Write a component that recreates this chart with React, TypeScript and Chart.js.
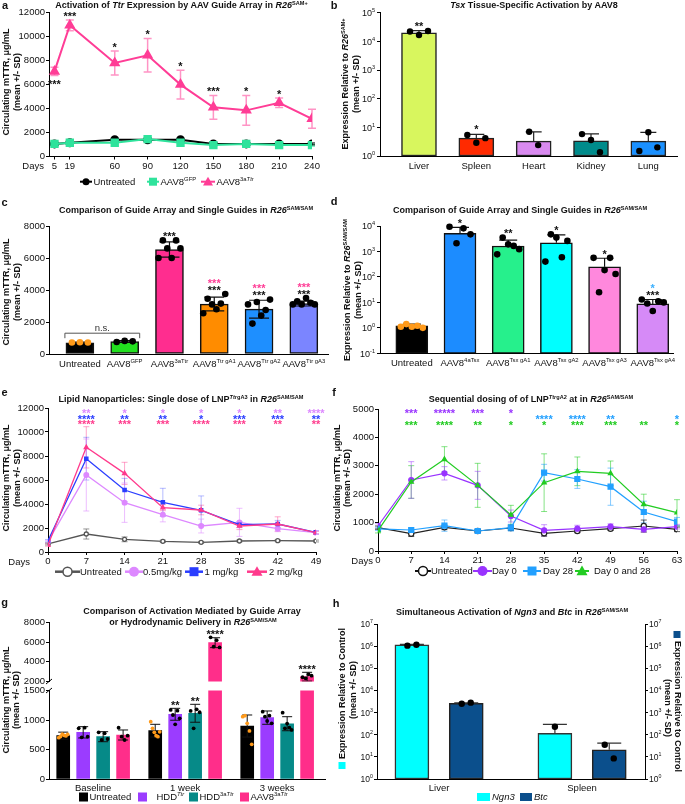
import React, { useEffect, useRef } from 'react';
import { Chart, registerables } from 'chart.js';

Chart.register(...registerables);

const FAM = '"Liberation Sans", Arial, Helvetica, sans-serif';
Chart.defaults.font.family = FAM;
Chart.defaults.color = '#111';

/* ================= DATA ================= */
// a
const daysA = [5, 19, 60, 90, 120, 150, 180, 210, 240];
const untreatedA = [1050, 1150, 1400, 1400, 1400, 1050, 1050, 1050, 1050];
const untreatedSdA = [80, 80, 100, 100, 100, 80, 80, 80, 80];
const gfpA = [1050, 1150, 1150, 1450, 1150, 950, 1050, 950, 950];
const gfpSdA = [100, 80, 120, 150, 100, 80, 80, 80, 80];
const ttrA = [7100, 10950, 7800, 8450, 6000, 4100, 3850, 4480, 3150];
const ttrSdA = [350, 450, 1000, 1400, 1200, 1000, 1250, 400, 800];
const starsA = ['***', '***', '*', '*', '*', '***', '*', '*', ''];
const starSideA = ['below', 'above', 'above', 'above', 'above', 'above', 'above', 'above', 'above'];
const yTicksA = [0, 2000, 4000, 6000, 8000, 10000, 12000];

// b
const tissuesB = ['Liver', 'Spleen', 'Heart', 'Kidney', 'Lung'];
const meanB = [20000, 4.2, 3.3, 3.4, 3.3];
const sdB = [3700, 1.5, 3.7, 2.5, 3.4];
const dotsB = [[22000, 16600, 23000], [5.4, 2.9, 4.2], [7.0, 2.4], [5.8, 3.6, 1.35], [1.5, 6.7, 2.0]];
const colorsB = ['#d8f65e', '#ff2a00', '#d98af0', '#008b8b', '#1a90ff'];
const starsB = ['**', '*', '', '', ''];

// c
const groupsC = ['Untreated', 'AAV8^{GFP}', 'AAV8^{3aTtr}', 'AAV8^{Ttr gA1}', 'AAV8^{Ttr gA2}', 'AAV8^{Ttr gA3}'];
const meanC = [700, 780, 6530, 3120, 2800, 3150];
const sdC = [40, 50, 480, 430, 560, 150];
const dotsC = [[720, 730, 720], [750, 820, 790], [6000, 7100, 6600, 6000, 7100, 6600], [2550, 3450, 3100, 2800, 3150, 3750], [3100, 1900, 3250, 2400, 2750, 3400], [3100, 3300, 3100, 3500, 3200, 3100]];
const colorsC = ['#000000', '#22e01f', '#ff2d8f', '#ff8c00', '#1e8fff', '#7b85ff'];
const starsC = ['', '', '***', '***', '***', '***'];
const starsPinkC = ['', '', '', '***', '***', '***'];
const yTicksC = [0, 2000, 4000, 6000, 8000];

// d
const groupsD = ['Untreated', 'AAV8^{4aTsx}', 'AAV8^{Tsx gA1}', 'AAV8^{Tsx gA2}', 'AAV8^{Tsx gA3}', 'AAV8^{Tsx gA4}'];
const meanD = [1.2, 5150, 1640, 2200, 250, 8.7];
const sdD = [0.2, 3750, 1160, 2300, 290, 4.3];
const dotsD = [[1.1, 1.4, 1.1, 1.2, 1.0], [9300, 2100, 8100, 4700], [770, 3500, 1900, 1650, 1230], [400, 4700, 3500, 590, 2600], [560, 25, 185, 560, 130], [13, 9, 4.6, 11, 10]];
const colorsD = ['#000000', '#1c8cff', '#26f08c', '#00ffff', '#ff88dd', '#d68af7'];
const starsD = ['', '*', '**', '*', '*', '***'];
const starsBlueD = ['', '', '', '', '', '*'];

// e
const daysE = [0, 7, 14, 21, 28, 35, 42, 49];
const untreatedE = [667, 1500, 1055, 888, 805, 916, 944, 916];
const untreatedSdE = [80, 420, 200, 100, 80, 80, 80, 80];
const lowE = [861, 6416, 4111, 3111, 2166, 2472, 1944, 1611];
const lowSdE = [100, 3000, 1640, 600, 580, 1170, 250, 150];
const midE = [944, 7778, 5166, 4138, 3472, 2277, 2333, 1640];
const midSdE = [100, 1780, 970, 1170, 1200, 250, 300, 150];
const highE = [583, 8722, 6555, 3694, 3500, 2166, 2333, 1611];
const highSdE = [100, 1720, 920, 250, 400, 300, 600, 100];
const starsLowE = ['', '**', '*', '*', '*', '*', '**', '****'];
const starsMidE = ['', '****', '**', '**', '*', '***', '***', '**'];
const starsHighE = ['', '****', '***', '***', '****', '***', '**', '**'];

// f
const daysF = [0, 7, 14, 21, 28, 35, 42, 49, 56, 63];
const untreatedF = [821, 610, 833, 704, 810, 622, 704, 786, 880, 763];
const untreatedSdF = [60, 100, 80, 60, 90, 100, 60, 60, 210, 80];
const day0F = [880, 2500, 2735, 2312, 1232, 728, 786, 857, 763, 857];
const day0SdF = [80, 645, 235, 493, 211, 198, 120, 100, 100, 80];
const day28F = [780, 740, 892, 704, 821, 2758, 2535, 2265, 1373, 1032];
const day28SdF = [60, 60, 200, 60, 120, 294, 330, 655, 380, 150];
const bothF = [716, 2430, 3228, 2312, 1268, 2406, 2805, 2735, 1643, 1350];
const bothSdF = [80, 575, 445, 775, 340, 1016, 505, 434, 357, 457];
const starsDay0F = ['', '***', '*****', '***', '*', '', '', '', '', ''];
const starsDay28F = ['', '', '', '', '', '****', '****', '**', '', '*'];
const starsBothF = ['', '***', '****', '**', '*', '*', '***', '***', '**', '*'];

// g
const timesG = ['Baseline', '1 week', '3 weeks'];
const untreatedG = [734, 819, 898];
const untreatedSdG = [60, 108, 187];
const untreatedDotsG = [[700, 720, 760, 740, 730, 755], [971, 859, 791, 734, 717, 800], [1056, 1073, 944, 814, 588]];
const hddTtrG = [791, 1097, 1040];
const hddTtrSdG = [96, 101, 113];
const hddTtrDotsG = [[859, 707, 870, 717], [1170, 1085, 927, 1158, 1029], [1141, 1056, 983, 1073, 944]];
const hdd3aG = [717, 1114, 937];
const hdd3aSdG = [85, 152, 119];
const hdd3aDotsG = [[791, 661, 775, 678], [1153, 859, 1181, 1131], [1124, 859, 940, 870, 831]];
const aav8G = [746, 5946, 2488];
const aav8SdG = [85, 504, 447];
const aav8DotsG = [[870, 717, 661, 734], [6495, 5540, 6200, 5470], [2430, 2325, 2732, 2590]];
const starsHddTtrG = ['', '**', ''];
const starsHdd3aG = ['', '**', ''];
const starsAav8G = ['', '****', '****'];
const yTicksGUp = [2000, 4000, 6000, 8000];
const yTicksGLow = [0, 500, 1000, 1500];

// h
const organsH = ['Liver', 'Spleen'];
const ngn3H = [1.15e6, 115];
const ngn3SdH = [0.05e6, 180];
const ngn3DotsH = [[1.05e6, 1.15e6], [230]];
const btcH = [2600, 21];
const btcSdH = [150, 21];
const btcDotsH = [[2500, 2800], [35, 8.5]];

/* ================= HELPERS ================= */
function parseRich(s: string) {
  const segs: any[] = [];
  const stack: string[] = [];
  let cur = '';
  const push = () => {
    if (cur) segs.push({ t: cur, sup: stack.includes('^'), it: stack.includes('~') });
    cur = '';
  };
  for (let i = 0; i < s.length; i++) {
    const c = s[i];
    if ((c === '^' || c === '~') && s[i + 1] === '{') { push(); stack.push(c); i++; continue; }
    if (c === '}' && stack.length) { push(); stack.pop(); continue; }
    cur += c;
  }
  push();
  return segs;
}

function drawRich(ctx: any, s: string, x: number, y: number, o: any = {}) {
  const size = o.size ?? 9.5;
  const segs = parseRich(s);
  const font = (g: any) => `${g.it ? 'italic ' : ''}${o.bold ? 'bold ' : ''}${g.sup ? size * 0.62 : size}px ${FAM}`;
  let w = 0;
  const ws = segs.map((g: any) => { ctx.font = font(g); const m = ctx.measureText(g.t).width; w += m; return m; });
  let cx = o.align === 'right' ? x - w : o.align === 'left' ? x : x - w / 2;
  const base = y + size * 0.36;
  ctx.fillStyle = o.color ?? '#111';
  ctx.textAlign = 'left';
  ctx.textBaseline = 'alphabetic';
  segs.forEach((g: any, i: number) => {
    ctx.font = font(g);
    ctx.fillText(g.t, cx, g.sup ? base - size * 0.42 : base);
    cx += ws[i];
  });
  return w;
}

function marker(ctx: any, kind: string, x: number, y: number, r: number, color: string) {
  ctx.save();
  ctx.fillStyle = color;
  ctx.strokeStyle = color;
  ctx.lineWidth = 1.5;
  ctx.beginPath();
  if (kind === 'circle') { ctx.arc(x, y, r, 0, Math.PI * 2); ctx.fill(); }
  else if (kind === 'circleOpen') { ctx.arc(x, y, r, 0, Math.PI * 2); ctx.fillStyle = '#fff'; ctx.fill(); ctx.stroke(); }
  else if (kind === 'rect') { ctx.rect(x - r, y - r, 2 * r, 2 * r); ctx.fill(); }
  else if (kind === 'triangle') { ctx.moveTo(x, y - r); ctx.lineTo(x + r, y + r * 0.75); ctx.lineTo(x - r, y + r * 0.75); ctx.closePath(); ctx.fill(); }
  ctx.restore();
}

function clipArea(chart: any, cfg: any) {
  const { ctx, chartArea: ca } = chart;
  const cp = cfg.clipPad ?? 14;
  ctx.beginPath();
  ctx.rect(ca.left - cp, ca.top - cp, ca.right - ca.left + 2 * cp, ca.bottom - ca.top + 2 * cp);
  ctx.clip();
}

function drawErr(chart: any, cfg: any) {
  const { ctx } = chart;
  ctx.save();
  clipArea(chart, cfg);
  chart.data.datasets.forEach((ds: any, di: number) => {
    if (!ds.errs) return;
    const meta = chart.getDatasetMeta(di);
    const ys = chart.scales[meta.yAxisID];
    meta.data.forEach((el: any, j: number) => {
      const sd = ds.errs[j];
      if (!sd) return;
      const m = ds.data[j].y;
      const x = el.x;
      const up = ds.errMode === 'up';
      const top = ys.getPixelForValue(m + sd);
      const bot = up ? ys.getPixelForValue(m) : ys.getPixelForValue(m - sd);
      const cw = ds.capW ?? 4;
      ctx.strokeStyle = ds.errColor ?? '#000';
      ctx.lineWidth = ds.errWidth ?? 1;
      ctx.beginPath();
      ctx.moveTo(x, top); ctx.lineTo(x, bot);
      ctx.moveTo(x - cw, top); ctx.lineTo(x + cw, top);
      if (!up) { ctx.moveTo(x - cw, bot); ctx.lineTo(x + cw, bot); }
      ctx.stroke();
    });
  });
  ctx.restore();
}

function drawDots(chart: any, cfg: any) {
  const { ctx } = chart;
  ctx.save();
  clipArea(chart, cfg);
  chart.data.datasets.forEach((ds: any, di: number) => {
    if (!ds.dots) return;
    const meta = chart.getDatasetMeta(di);
    const ys = chart.scales[meta.yAxisID];
    meta.data.forEach((el: any, j: number) => {
      const vals = ds.dots[j] || [];
      const n = vals.length;
      const spread = n > 1 ? Math.min((ds.dotSpacing ?? 6) * (n - 1), ds.dotSpread ?? 999) : 0;
      const col = Array.isArray(ds.dotColor) ? ds.dotColor[j] : (ds.dotColor ?? '#000');
      vals.forEach((v: number, k: number) => {
        const x = el.x + (n > 1 ? -spread / 2 + (k * spread) / (n - 1) : 0);
        const y = ys.getPixelForValue(v);
        ctx.fillStyle = col;
        ctx.beginPath();
        ctx.arc(x, y, ds.dotR ?? 3, 0, Math.PI * 2);
        ctx.fill();
      });
    });
  });
  ctx.restore();
}

function drawNotes(chart: any, cfg: any) {
  const { ctx, chartArea: ca } = chart;
  const xs = chart.scales.x;
  ctx.save();
  if (cfg.logLabels) {
    cfg.logLabels.forEach((L: any) => {
      const sc = chart.scales[L.axis];
      const gapL = L.gap ?? 5;
      sc.ticks.forEach((t: any) => {
        const e = Math.round(Math.log10(t.value));
        const y = sc.getPixelForValue(t.value);
        drawRich(ctx, '10^{' + e + '}', L.side === 'left' ? sc.right - gapL : sc.left + gapL, y, { size: L.size ?? 9, align: L.side === 'left' ? 'right' : 'left' });
      });
    });
  }
  if (cfg.xLabels) {
    cfg.xLabels.items.forEach((it: any) => {
      drawRich(ctx, it.text, xs.getPixelForValue(it.x), ca.bottom + cfg.xLabels.dy, { size: cfg.xLabels.size ?? 9.5, align: 'center' });
    });
  }
  if (cfg.days !== undefined) {
    drawRich(ctx, 'Days', ca.left + cfg.days, ca.bottom + (cfg.daysDy ?? 9.5), { size: 9.5, align: 'right' });
  }
  if (cfg.bracket) {
    const b = cfg.bracket;
    const ys = chart.scales.y;
    const x0 = xs.getPixelForValue(b.x0) - b.pad;
    const x1 = xs.getPixelForValue(b.x1) + b.pad;
    const y = ys.getPixelForValue(b.y);
    ctx.strokeStyle = '#555';
    ctx.lineWidth = 1;
    ctx.beginPath();
    ctx.moveTo(x0, y + b.leg); ctx.lineTo(x0, y); ctx.lineTo(x1, y); ctx.lineTo(x1, y + b.leg);
    ctx.stroke();
    drawRich(ctx, b.text, (x0 + x1) / 2, y - 6, { size: 9.5, color: '#333' });
  }
  if (cfg.breakMark) {
    const y = cfg.breakMark === 'bottom' ? ca.bottom : ca.top;
    ctx.strokeStyle = '#000';
    ctx.lineWidth = 1;
    ctx.beginPath();
    ctx.moveTo(ca.left - 3, y + 2.5); ctx.lineTo(ca.left + 3, y - 2.5);
    ctx.stroke();
  }
  if (cfg.stars) {
    const size = cfg.starSize ?? 11;
    ctx.font = `bold ${size}px ${FAM}`;
    ctx.textAlign = 'center';
    ctx.textBaseline = 'middle';
    cfg.stars.forEach((s: any) => {
      const ys = chart.scales[s.axis ?? 'y'];
      const x = xs.getPixelForValue(s.x);
      const y = ys.getPixelForValue(s.y) + s.dy;
      ctx.fillStyle = s.color;
      ctx.fillText(s.text, x, y + 0.26 * size);
    });
  }
  if (cfg.legend) {
    const L = cfg.legend;
    let x = L.x;
    const size = L.size ?? 9.5;
    L.items.forEach((it: any) => {
      if (it.x !== undefined) x = it.x;
      if (it.marker === 'box') {
        const bw = it.boxW ?? 9;
        const bh = it.boxH ?? 9;
        ctx.fillStyle = it.color;
        ctx.fillRect(x, L.y - bh / 2, bw, bh);
        x += bw + (it.gapT ?? 1.5);
      } else {
        const len = it.len ?? 14;
        ctx.strokeStyle = it.color;
        ctx.lineWidth = it.lw ?? 2;
        ctx.beginPath();
        ctx.moveTo(x, L.y); ctx.lineTo(x + len, L.y);
        ctx.stroke();
        marker(ctx, it.marker, x + len / 2, L.y, it.r ?? 3.5, it.color);
        x += len + (it.gapT ?? 1.5);
      }
      const w = drawRich(ctx, it.text, x, L.y, { size, align: 'left' });
      x += w + (L.gap ?? 8);
    });
  }
  ctx.restore();
}

function makeDeco(cfg: any) {
  return {
    id: 'deco',
    beforeDatasetsDraw(chart: any) { if (cfg.errBehind) drawErr(chart, cfg); },
    afterDatasetsDraw(chart: any) { if (!cfg.errBehind) drawErr(chart, cfg); drawDots(chart, cfg); },
    afterDraw(chart: any) { drawNotes(chart, cfg); },
  };
}

const axisGrid = (ticks: boolean) => ({ drawOnChartArea: false, drawTicks: ticks, tickLength: 3, color: '#000', tickColor: '#000', offset: false });
const axisBorder = { color: '#000', width: 1 };

function yLinear(min: number, max: number, ticks: number[], w: number) {
  return {
    type: 'linear', min, max,
    afterBuildTicks: (s: any) => { s.ticks = ticks.map((v) => ({ value: v })); },
    afterFit: (s: any) => { s.width = w; },
    ticks: { font: { size: 9.5, family: FAM }, color: '#111', padding: 1, callback: (v: any) => String(v) },
    grid: axisGrid(true),
    border: axisBorder,
  };
}

function yLog(min: number, max: number, w: number, position = 'left') {
  const ticks: number[] = [];
  for (let e = Math.round(Math.log10(min)); e <= Math.round(Math.log10(max)); e++) ticks.push(Math.pow(10, e));
  return {
    type: 'logarithmic', position, min, max,
    afterBuildTicks: (s: any) => { s.ticks = ticks.map((v) => ({ value: v })); },
    afterFit: (s: any) => { s.width = w; },
    ticks: { callback: () => '' },
    grid: axisGrid(true),
    border: axisBorder,
  };
}

function xLinear(min: number, max: number, ticks: number[], h: number, labels: boolean, display = true) {
  return {
    type: 'linear', min, max, offset: false, display,
    afterBuildTicks: (s: any) => { s.ticks = ticks.map((v) => ({ value: v })); },
    afterFit: (s: any) => { s.height = h; },
    ticks: { display: labels, font: { size: 9.5, family: FAM }, color: '#111', padding: 1, maxRotation: 0, autoSkip: false, callback: (v: any) => String(v) },
    grid: axisGrid(labels),
    border: axisBorder,
  };
}

function baseOptions(padding: any, scales: any) {
  return {
    animation: false, responsive: false, maintainAspectRatio: false, events: [],
    layout: { padding },
    plugins: { legend: { display: false }, tooltip: { enabled: false } },
    scales,
  };
}

function barStars(labels: string[], means: number[], sds: number[], dots: number[][], color: string, dy: number, xOf = (i: number) => i, axis = 'y') {
  const out: any[] = [];
  labels.forEach((t, i) => {
    if (!t) return;
    const top = Math.max(means[i] + sds[i], ...(dots[i] || []));
    out.push({ x: xOf(i), y: top, dy, text: t, color, axis });
  });
  return out;
}

function rowStars(labels: string[], xsv: number[], level: number, color: string) {
  const out: any[] = [];
  labels.forEach((t, i) => { if (t) out.push({ x: xsv[i], y: level, dy: 0, text: t, color }); });
  return out;
}

const pts = (xsv: number[], ysv: number[]) => xsv.map((x, i) => ({ x, y: ysv[i] }));

/* ================= CONFIGS ================= */
const PINK = '#ff3d96';
const MINT = '#2fe39c';

function cfgA() {
  const starList: any[] = [];
  starsA.forEach((t, i) => {
    if (!t) return;
    if (starSideA[i] === 'below') starList.push({ x: daysA[i], y: ttrA[i] - ttrSdA[i], dy: 6, text: t, color: '#111' });
    else starList.push({ x: daysA[i], y: ttrA[i] + ttrSdA[i], dy: -6, text: t, color: '#111' });
  });
  return {
    type: 'line',
    data: {
      datasets: [
        { data: pts(daysA, ttrA), order: 0, borderColor: PINK, borderWidth: 2, pointStyle: 'triangle', pointRadius: 4.5, pointBackgroundColor: PINK, pointBorderColor: PINK, tension: 0, errs: ttrSdA, errColor: 'rgba(255,61,150,0.55)', errWidth: 1.5, capW: 4 },
        { data: pts(daysA, gfpA), order: 1, borderColor: MINT, borderWidth: 2, pointStyle: 'rect', pointRadius: 4.5, pointBackgroundColor: MINT, pointBorderColor: MINT, tension: 0, errs: gfpSdA, errColor: MINT, capW: 3 },
        { data: pts(daysA, untreatedA), order: 2, borderColor: '#000', borderWidth: 2, pointStyle: 'circle', pointRadius: 3.5, pointBackgroundColor: '#000', pointBorderColor: '#000', tension: 0, errs: untreatedSdA, errColor: '#000', capW: 3 },
      ],
    },
    options: baseOptions({ top: 12.7, right: 30, left: 0, bottom: 0 }, {
      x: xLinear(0, 240, daysA, 38.5, true),
      y: yLinear(0, 12000, yTicksA, 49),
    }),
    plugins: [makeDeco({
      errBehind: true, days: -5, stars: starList,
      legend: {
        y: 181.7, x: 80, gap: 8, items: [
          { x: 80, text: 'Untreated', color: '#000', marker: 'circle', r: 3.5, len: 12 },
          { x: 147, text: 'AAV8^{GFP}', color: MINT, marker: 'rect', r: 4, len: 12 },
          { x: 201, text: 'AAV8^{3a~{Ttr}}', color: PINK, marker: 'triangle', r: 5, len: 14 },
        ],
      },
    })],
  };
}

function cfgB() {
  return {
    type: 'bar',
    data: {
      datasets: [{
        data: tissuesB.map((_, i) => ({ x: i, y: meanB[i] })),
        backgroundColor: colorsB, borderColor: '#222', borderWidth: 1.5, borderSkipped: false,
        barThickness: 35, grouped: false,
        errs: sdB, errMode: 'up', capW: 8, errWidth: 1.2, errColor: '#222',
        dots: dotsB, dotR: 3.2, dotSpacing: 9, dotSpread: 18,
      }],
    },
    options: baseOptions({ top: 12.7, right: 8, left: 0, bottom: 0 }, {
      x: xLinear(-0.68, 4.5, [], 39, false),
      y: yLog(1, 1e5, 38),
    }),
    plugins: [makeDeco({
      logLabels: [{ axis: 'y', side: 'left' }],
      xLabels: { items: tissuesB.map((t, i) => ({ x: i, text: t })), dy: 9.7 },
      stars: barStars(starsB, meanB, sdB, dotsB, '#111', -7),
    })],
  };
}

function cfgC() {
  return {
    type: 'bar',
    data: {
      datasets: [{
        data: groupsC.map((_, i) => ({ x: i, y: meanC[i] })),
        backgroundColor: colorsC, borderColor: '#111', borderWidth: 1.5, borderSkipped: false,
        barThickness: 28, grouped: false,
        errs: sdC, errMode: 'both', capW: 10, errWidth: 1.2, errColor: '#111',
        dots: dotsC, dotR: 3.3, dotSpacing: 8, dotSpread: 22,
        dotColor: ['#ff9a1a', '#000', '#000', '#000', '#000', '#000'],
      }],
    },
    options: baseOptions({ top: 31, right: 14, left: 0, bottom: 0 }, {
      x: xLinear(-0.69, 5.54, [], 41, false),
      y: yLinear(0, 8000, yTicksC, 49),
    }),
    plugins: [makeDeco({
      xLabels: { items: groupsC.map((t, i) => ({ x: i, text: t })), dy: 9.5 },
      bracket: { x0: 0, x1: 1, pad: 15, y: 1300, leg: 5, text: 'n.s.' },
      stars: [
        ...barStars(starsC, meanC, sdC, dotsC, '#111', -6),
        ...barStars(starsPinkC, meanC, sdC, dotsC, '#ff3d96', -13),
      ],
    })],
  };
}

function cfgD() {
  return {
    type: 'bar',
    data: {
      datasets: [{
        data: groupsD.map((_, i) => ({ x: i, y: meanD[i] })),
        backgroundColor: colorsD, borderColor: '#111', borderWidth: 1.5, borderSkipped: false,
        barThickness: 32, grouped: false,
        errs: sdD, errMode: 'up', capW: 9, errWidth: 1.2, errColor: '#111',
        dots: dotsD, dotR: 3.3, dotSpacing: 7, dotSpread: 22,
        dotColor: ['#ff9a1a', '#000', '#000', '#000', '#000', '#000'],
      }],
    },
    options: baseOptions({ top: 31, right: 12, left: 0, bottom: 0 }, {
      x: xLinear(-0.66, 5.42, [], 41.7, false),
      y: yLog(0.1, 1e4, 38),
    }),
    plugins: [makeDeco({
      logLabels: [{ axis: 'y', side: 'left' }],
      xLabels: { items: groupsD.map((t, i) => ({ x: i, text: t })), dy: 9.7 },
      stars: [
        ...barStars(starsD, meanD, sdD, dotsD, '#111', -6),
        ...barStars(starsBlueD, meanD, sdD, dotsD, '#3ab0ff', -13),
      ],
    })],
  };
}

const VIOLET_E = '#dd88ff';
const BLUE_E = '#2a3dff';
const PINK_E = '#ff3a8c';

function cfgE() {
  const line = (ys: number[], sd: number[], color: string, errColor: string, style: string, order: number, extra: any = {}) => ({
    data: pts(daysE, ys), order, borderColor: color, borderWidth: 1.3, pointStyle: style, pointRadius: 2.3,
    pointBackgroundColor: color, pointBorderColor: color, tension: 0, errs: sd, errColor, errWidth: 1, capW: 3, ...extra,
  });
  return {
    type: 'line',
    data: {
      datasets: [
        line(highE, highSdE, PINK_E, 'rgba(255,58,140,0.45)', 'triangle', 0),
        line(midE, midSdE, BLUE_E, 'rgba(42,61,255,0.35)', 'rect', 1),
        line(lowE, lowSdE, VIOLET_E, 'rgba(221,136,255,0.55)', 'circle', 2),
        line(untreatedE, untreatedSdE, '#555', 'rgba(80,80,80,0.6)', 'circle', 3, { pointBackgroundColor: '#fff', pointRadius: 2 }),
      ],
    },
    options: baseOptions({ top: 13, right: 26, left: 0, bottom: 0 }, {
      x: xLinear(0, 49, daysE, 43, true),
      y: yLinear(0, 12000, yTicksA, 48),
    }),
    plugins: [makeDeco({
      errBehind: true, days: -18,
      stars: [
        ...rowStars(starsLowE, daysE, 11750, VIOLET_E),
        ...rowStars(starsMidE, daysE, 11270, BLUE_E),
        ...rowStars(starsHighE, daysE, 10820, PINK_E),
      ],
      legend: {
        y: 176.7, x: 55, gap: 8, items: [
          { x: 55, text: 'Untreated', color: '#555', marker: 'circleOpen', r: 4.5, len: 25, lw: 2.5, gapT: 0 },
          { x: 125, text: '0.5mg/kg', color: VIOLET_E, marker: 'circle', r: 5, len: 18, lw: 2.5, gapT: 0 },
          { x: 185, text: '1 mg/kg', color: BLUE_E, marker: 'rect', r: 4.5, len: 18, lw: 2.5, gapT: 1.5 },
          { x: 247, text: '2 mg/kg', color: PINK_E, marker: 'triangle', r: 5.5, len: 20, lw: 2.5, gapT: 2 },
        ],
      },
    })],
  };
}

const PURPLE_F = '#9933ff';
const BLUE_F = '#22a0ff';
const GREEN_F = '#22cc22';

function cfgF() {
  const line = (ys: number[], sd: number[], color: string, errColor: string, style: string, r: number, order: number, extra: any = {}) => ({
    data: pts(daysF, ys), order, borderColor: color, borderWidth: 1.2, pointStyle: style, pointRadius: r,
    pointBackgroundColor: color, pointBorderColor: color, tension: 0, errs: sd, errColor, errWidth: 1, capW: 3, ...extra,
  });
  return {
    type: 'line',
    data: {
      datasets: [
        line(bothF, bothSdF, GREEN_F, 'rgba(34,204,34,0.55)', 'triangle', 2.5, 0),
        line(day28F, day28SdF, BLUE_F, 'rgba(34,160,255,0.55)', 'rect', 3.5, 1),
        line(day0F, day0SdF, PURPLE_F, 'rgba(153,51,255,0.5)', 'circle', 2.5, 2),
        line(untreatedF, untreatedSdF, '#222', 'rgba(30,30,30,0.7)', 'circle', 2.6, 3, { pointBackgroundColor: '#fff' }),
      ],
    },
    options: baseOptions({ top: 14, right: 8, left: 0, bottom: 0 }, {
      x: xLinear(0, 63, daysF, 44, true),
      y: yLinear(0, 5000, [0, 1000, 2000, 3000, 4000, 5000], 36),
    }),
    plugins: [makeDeco({
      errBehind: true, days: -5,
      stars: [
        ...rowStars(starsDay0F, daysF, 4930, PURPLE_F),
        ...rowStars(starsDay28F, daysF, 4730, BLUE_F),
        ...rowStars(starsBothF, daysF, 4520, GREEN_F),
      ],
      legend: {
        y: 176, x: 73, gap: 8, items: [
          { x: 73, text: 'Untreated', color: '#111', marker: 'circleOpen', r: 4.5, len: 16, lw: 2, gapT: 0 },
          { x: 131, text: 'Day 0', color: PURPLE_F, marker: 'circle', r: 5, len: 19, lw: 2, gapT: 0 },
          { x: 181, text: 'Day 28', color: BLUE_F, marker: 'rect', r: 4.5, len: 18, lw: 2, gapT: 2 },
          { x: 233, text: 'Day 0 and 28', color: GREEN_F, marker: 'triangle', r: 5.5, len: 14, lw: 2, gapT: 5 },
        ],
      },
    })],
  };
}

const G_STEP = 0.217;
const gx = (group: number, k: number) => group + (k - 1.5) * G_STEP;
const PURPLE_G = '#9b3cff';
const TEAL_G = '#068a88';
const PINK_G = '#ff2e8a';

function datasetsG() {
  const mk = (vals: number[], sd: number[], dots: number[][], k: number, color: string, dotColor: string) => ({
    data: vals.map((v, i) => ({ x: gx(i, k), y: v })),
    backgroundColor: color, borderColor: color, borderWidth: 0, borderSkipped: false,
    barThickness: 13, grouped: false,
    errs: sd, errMode: 'both', capW: 5, errWidth: 1, errColor: '#111',
    dots, dotR: 1.9, dotSpacing: 3.5, dotSpread: 9, dotColor,
  });
  return [
    mk(untreatedG, untreatedSdG, untreatedDotsG, 0, '#000', '#ff9a1a'),
    mk(hddTtrG, hddTtrSdG, hddTtrDotsG, 1, PURPLE_G, '#000'),
    mk(hdd3aG, hdd3aSdG, hdd3aDotsG, 2, TEAL_G, '#000'),
    mk(aav8G, aav8SdG, aav8DotsG, 3, PINK_G, '#000'),
  ];
}

function cfgGUp() {
  return {
    type: 'bar',
    data: { datasets: datasetsG() },
    options: baseOptions({ top: 27.5, right: 17, left: 0, bottom: 8.5 }, {
      x: xLinear(-0.48, 2.52, [], 0, false, false),
      y: yLinear(2000, 8000, yTicksGUp, 49),
    }),
    plugins: [makeDeco({
      clipPad: 0, breakMark: 'bottom',
      stars: barStars(starsAav8G, aav8G, aav8SdG, aav8DotsG, '#111', -5, (i) => gx(i, 3)),
    })],
  };
}

function cfgGLow() {
  return {
    type: 'bar',
    data: { datasets: datasetsG() },
    options: baseOptions({ top: 10.5, right: 17, left: 0, bottom: 0 }, {
      x: xLinear(-0.48, 2.52, [], 25, false),
      y: yLinear(0, 1500, yTicksGLow, 49),
    }),
    plugins: [makeDeco({
      clipPad: 0, breakMark: 'top',
      xLabels: { items: timesG.map((t, i) => ({ x: i, text: t })), dy: 9 },
      stars: [
        ...barStars(starsHddTtrG, hddTtrG, hddTtrSdG, hddTtrDotsG, '#111', -5, (i) => gx(i, 1)),
        ...barStars(starsHdd3aG, hdd3aG, hdd3aSdG, hdd3aDotsG, '#111', -5, (i) => gx(i, 2)),
      ],
      legend: {
        y: 117, x: 79, gap: 8, items: [
          { x: 79, text: 'Untreated', color: '#000', marker: 'box' },
          { x: 138, text: '   HDD^{~{Ttr}}', color: PURPLE_G, marker: 'box' },
          { x: 189, text: 'HDD^{3a~{Ttr}}', color: TEAL_G, marker: 'box' },
          { x: 240, text: 'AAV8^{3a~{Ttr}}', color: PINK_G, marker: 'box' },
        ],
      },
    })],
  };
}

const CYAN_H = '#00ffff';
const NAVY_H = '#0b4f8c';

function cfgH() {
  return {
    type: 'bar',
    data: {
      datasets: [
        {
          yAxisID: 'y', data: organsH.map((_, i) => ({ x: i - 0.19, y: ngn3H[i] })),
          backgroundColor: CYAN_H, borderColor: '#333', borderWidth: 1.5, borderSkipped: false, barThickness: 34, grouped: false,
          errs: ngn3SdH, errMode: 'up', capW: 12, errWidth: 1.2, errColor: '#333',
          dots: ngn3DotsH, dotR: 3.2, dotSpacing: 9, dotSpread: 10,
        },
        {
          yAxisID: 'y2', data: organsH.map((_, i) => ({ x: i + 0.19, y: btcH[i] })),
          backgroundColor: NAVY_H, borderColor: '#222', borderWidth: 1.5, borderSkipped: false, barThickness: 34, grouped: false,
          errs: btcSdH, errMode: 'up', capW: 12, errWidth: 1.2, errColor: '#333',
          dots: [btcDotsH[0], [btcDotsH[1][0], btcDotsH[1][1]]], dotR: 3.2, dotSpacing: 9, dotSpread: 10,
        },
      ],
    },
    options: baseOptions({ top: 29, right: 0, left: 0, bottom: 0 }, {
      x: xLinear(-0.434, 1.44, [], 25, false),
      y: yLog(1, 1e7, 35, 'left'),
      y2: yLog(1, 1e7, 40, 'right'),
    }),
    plugins: [makeDeco({
      logLabels: [{ axis: 'y', side: 'left', size: 8.5, gap: 4 }, { axis: 'y2', side: 'right', size: 8.5, gap: 4 }],
      xLabels: { items: organsH.map((t, i) => ({ x: i, text: t })), dy: 9 },
      legend: {
        y: 202, x: 135, gap: 8, items: [
          { x: 135, text: '~{Ngn3}', color: CYAN_H, marker: 'box', boxW: 13, boxH: 8, gapT: 2 },
          { x: 178, text: '~{Btc}', color: NAVY_H, marker: 'box', boxW: 12, boxH: 8, gapT: 2 },
        ],
      },
    })],
  };
}

/* ================= COMPONENTS ================= */
function ChartBox({ left, top, width, height, make }: any) {
  const ref = useRef<HTMLCanvasElement>(null);
  useEffect(() => {
    const ch = new Chart(ref.current as any, make());
    return () => ch.destroy();
  }, []);
  return <canvas ref={ref} width={width} height={height} style={{ position: 'absolute', left, top, width, height }} />;
}

const Sup = ({ children }: any) => (
  <span style={{ fontSize: '0.62em', position: 'relative', top: '-0.5em', lineHeight: 0 }}>{children}</span>
);

function T({ x, y, rot = 0, size = 9, bold = true, children }: any) {
  return (
    <div style={{
      position: 'absolute', left: x, top: y, transform: `translate(-50%,-50%) rotate(${rot}deg)`,
      fontSize: size, fontWeight: bold ? 700 : 400, whiteSpace: 'nowrap', lineHeight: 1, color: '#111',
    }}>{children}</div>
  );
}

const Sq = ({ c }: any) => (
  <span style={{ display: 'inline-block', width: 7, height: 7, background: c, marginRight: 3, marginLeft: 3, verticalAlign: 'middle' }} />
);

const MTTR = 'Circulating mTTR, \u03bcg/mL';
const MSD = '(mean +/- SD)';

export default function App() {
  return (
    <div style={{ position: 'absolute', left: 0, top: 0, width: 685, height: 804, background: '#fff', fontFamily: FAM, color: '#111', overflow: 'hidden' }}>
      <ChartBox left={0} top={0} width={342} height={195} make={cfgA} />
      <ChartBox left={342} top={0} width={343} height={195} make={cfgB} />
      <ChartBox left={0} top={195} width={342} height={200} make={cfgC} />
      <ChartBox left={342} top={195} width={343} height={200} make={cfgD} />
      <ChartBox left={0} top={395} width={342} height={200} make={cfgE} />
      <ChartBox left={342} top={395} width={343} height={200} make={cfgF} />
      <ChartBox left={0} top={595} width={342} height={95} make={cfgGUp} />
      <ChartBox left={0} top={680} width={342} height={124} make={cfgGLow} />
      <ChartBox left={342} top={595} width={343} height={209} make={cfgH} />

      {/* panel letters */}
      <T x={5} y={4.5} size={11}>a</T>
      <T x={334} y={4.5} size={11}>b</T>
      <T x={4.5} y={201.5} size={11}>c</T>
      <T x={334} y={201} size={11}>d</T>
      <T x={4.5} y={392} size={11}>e</T>
      <T x={334} y={392} size={11}>f</T>
      <T x={4.5} y={602} size={11}>g</T>
      <T x={336} y={603} size={11}>h</T>

      {/* titles */}
      <T x={181.5} y={5}>Activation of <i>Ttr</i> Expression by AAV Guide Array in <i>R26</i><Sup>SAM+</Sup></T>
      <T x={534} y={4.5}><i>Tsx</i> Tissue-Specific Activation by AAV8</T>
      <T x={186} y={209.5}>Comparison of Guide Array and Single Guides in <i>R26</i><Sup>SAM/SAM</Sup></T>
      <T x={520} y={209.5}>Comparison of Guide Array and Single Guides in <i>R26</i><Sup>SAM/SAM</Sup></T>
      <T x={181} y={399}>Lipid Nanoparticles: Single dose of LNP<Sup><i>Ttr</i>gA3</Sup> in <i>R26</i><Sup>SAM/SAM</Sup></T>
      <T x={531} y={399}>Sequential dosing of of LNP<Sup><i>Ttr</i>gA2</Sup> at in <i>R26</i><Sup>SAM/SAM</Sup></T>
      <T x={192} y={611}>Comparison of Activation Mediated by Guide Array</T>
      <T x={193} y={622}>or Hydrodynamic Delivery in <i>R26</i><Sup>SAM/SAM</Sup></T>
      <T x={512} y={612}>Simultaneous Activation of <i>Ngn3</i> and <i>Btc</i> in <i>R26</i><Sup>SAM/SAM</Sup></T>

      {/* y-axis titles */}
      <T x={5.5} y={82} rot={-90}>{MTTR}</T>
      <T x={16.5} y={82} rot={-90}>{MSD}</T>
      <T x={344.5} y={84} rot={-90}>Expression Relative to <i>R26</i><Sup>SAM+</Sup></T>
      <T x={355.5} y={84} rot={-90}>{MSD}</T>
      <T x={5.5} y={292} rot={-90}>{MTTR}</T>
      <T x={16.5} y={292} rot={-90}>{MSD}</T>
      <T x={347} y={290} rot={-90}>Expression Relative to <i>R26</i><Sup>SAM/SAM</Sup></T>
      <T x={357.5} y={290} rot={-90}>{MSD}</T>
      <T x={5.5} y={478} rot={-90}>{MTTR}</T>
      <T x={16.5} y={478} rot={-90}>{MSD}</T>
      <T x={336.5} y={478} rot={-90}>{MTTR}</T>
      <T x={347} y={478} rot={-90}>{MSD}</T>
      <T x={5.5} y={700} rot={-90}>{MTTR}</T>
      <T x={16} y={700} rot={-90}>{MSD}</T>
      <T x={341.5} y={700} rot={-90}><Sq c={CYAN_H} />Expression Relative to Control</T>
      <T x={353} y={690} rot={-90}>{MSD}</T>
      <T x={677} y={700} rot={90}><Sq c={NAVY_H} />Expression Relative to Control</T>
      <T x={667} y={708} rot={90}>{MSD}</T>
    </div>
  );
}
